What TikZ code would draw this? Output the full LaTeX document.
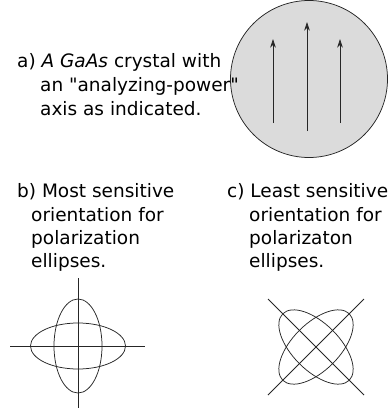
\documentclass[tikz,border=0pt]{standalone}
\usepackage{fontspec}
\setmainfont{DejaVu Sans}[Ligatures=TeXOff]
\usetikzlibrary{arrows.meta}
\tikzset{
  lbl/.style={anchor=base west, inner sep=0pt, font=\fontsize{18.5}{22}\selectfont},
  thin line/.style={line width=0.75pt, draw=black!85},
  axisarrow/.style={line width=0.75pt, draw=black!85, -{Stealth[length=8.5pt,width=5.5pt,inset=2.5pt]}},
}
\begin{document}
\begin{tikzpicture}[x=1pt,y=-1pt]
\useasboundingbox (0,0) rectangle (391,418);
% crystal
\fill[black!14] (309,79) circle[radius=78.5pt];
\draw[thin line] (309,79) circle[radius=78.5pt];
\coordinate (l0) at (273,123); \coordinate (l1) at (273,39);
\coordinate (m0) at (307,131); \coordinate (m1) at (307,22);
\coordinate (r0) at (340,123); \coordinate (r1) at (340,39);
\draw[axisarrow] (l0) -- (l1);
\draw[axisarrow] (m0) -- (m1);
\draw[axisarrow] (r0) -- (r1);
% text a
\node[lbl] (a1) at (17,67) {a) \textit{A GaAs} crystal with};
\node[lbl] (a2) at (40,91) {an "analyzing-power"};
\node[lbl] (a3) at (40,115) {axis as indicated.};
% text b
\node[lbl] (b1) at (17,197) {b) Most sensitive};
\node[lbl] (b2) at (31,221) {orientation for};
\node[lbl] (b3) at (31,244) {polarization};
\node[lbl] (b4) at (31,267) {ellipses.};
% text c
\node[lbl] (c1) at (227,197) {c) Least sensitive};
\node[lbl] (c2) at (249,221) {orientation for};
\node[lbl] (c3) at (249,244) {polarizaton};
\node[lbl] (c4) at (249,267) {ellipses.};
% figure b
\coordinate (bc) at (78,346);
\coordinate (bt) at (78,278); \coordinate (bb) at (78,408);
\coordinate (bl) at (10,346); \coordinate (br) at (145,346);
\draw[thin line] (bt) -- (bb);
\draw[thin line] (bl) -- (br);
\draw[thin line] (bc) ellipse[x radius=24pt, y radius=47pt];
\draw[thin line] (bc) ellipse[x radius=47.5pt, y radius=23pt];
% figure c
\coordinate (cc) at (316,347);
\coordinate (ctl) at (268,299); \coordinate (cbr) at (364,395);
\coordinate (ctr) at (364,299); \coordinate (cbl) at (268,395);
\draw[thin line] (ctl) -- (cbr);
\draw[thin line] (ctr) -- (cbl);
\draw[thin line, rotate around={45:(cc)}] (cc) ellipse[x radius=47pt, y radius=23.5pt];
\draw[thin line, rotate around={-45:(cc)}] (cc) ellipse[x radius=47pt, y radius=23.5pt];
\end{tikzpicture}
\end{document}
